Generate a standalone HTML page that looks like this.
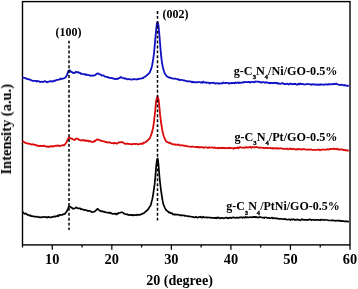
<!DOCTYPE html>
<html><head><meta charset="utf-8"><style>
html,body{margin:0;padding:0;background:#fff;}
svg{display:block;}
text{font-family:"Liberation Serif",serif;font-weight:bold;fill:#000;}
.tx{filter:grayscale(1);}
</style></head><body>
<svg width="358" height="289" viewBox="0 0 358 289">
<rect x="0" y="0" width="358" height="289" fill="#fff"/>
<rect x="22.5" y="1.6" width="327.5" height="243.3" fill="none" stroke="#000" stroke-width="1.4"/>
<g fill="none" stroke-linejoin="round">
<path d="M22.5 77.7 L23.3 77.7 L24.1 77.9 L24.9 77.8 L25.7 78.4 L26.5 78.7 L27.3 79.0 L28.1 79.1 L28.9 79.5 L29.7 79.6 L30.5 79.6 L31.3 80.4 L32.1 80.6 L32.9 81.0 L33.7 80.8 L34.5 80.8 L35.3 80.9 L36.1 80.8 L36.9 81.5 L37.7 81.1 L38.5 81.2 L39.3 81.5 L40.1 82.1 L40.9 81.9 L41.7 81.7 L42.5 81.8 L43.3 81.9 L44.1 81.4 L44.9 81.2 L45.7 81.5 L46.5 81.9 L47.3 82.3 L48.1 81.6 L48.9 81.7 L49.7 81.6 L50.5 81.1 L51.3 81.3 L52.1 81.2 L52.9 81.6 L53.7 81.1 L54.5 80.5 L55.3 80.8 L56.1 80.4 L56.9 79.8 L57.7 79.8 L58.5 79.6 L59.3 79.3 L60.1 79.3 L60.9 78.5 L61.7 78.8 L62.5 78.8 L63.3 78.5 L64.1 78.2 L64.9 77.8 L65.7 77.3 L66.5 75.7 L67.3 74.6 L68.1 71.6 L68.9 70.5 L69.7 70.2 L70.5 71.2 L71.3 72.0 L72.1 72.1 L72.9 73.0 L73.7 72.7 L74.5 73.0 L75.3 72.5 L76.1 71.7 L76.9 72.1 L77.7 72.6 L78.5 72.1 L79.3 72.9 L80.1 73.0 L80.9 73.8 L81.7 73.7 L82.5 74.0 L83.3 74.2 L84.1 74.3 L84.9 74.0 L85.7 74.9 L86.5 74.4 L87.3 75.0 L88.1 75.2 L88.9 75.0 L89.7 75.3 L90.5 75.8 L91.3 75.6 L92.1 75.6 L92.9 75.3 L93.7 75.7 L94.5 75.5 L95.3 75.0 L96.1 74.3 L96.9 73.8 L97.7 73.3 L98.5 73.6 L99.3 74.3 L100.1 74.3 L100.9 74.7 L101.7 75.6 L102.5 75.5 L103.3 75.3 L104.1 75.9 L104.9 76.4 L105.7 76.8 L106.5 76.9 L107.3 77.0 L108.1 77.2 L108.9 77.8 L109.7 77.9 L110.5 77.8 L111.3 78.0 L112.1 78.1 L112.9 78.5 L113.7 78.4 L114.5 78.9 L115.3 79.1 L116.1 79.0 L116.9 78.6 L117.7 79.0 L118.5 78.3 L119.3 78.2 L120.1 77.5 L120.9 77.0 L121.7 77.5 L122.5 77.9 L123.3 78.1 L124.1 78.5 L124.9 78.4 L125.7 78.5 L126.5 78.8 L127.3 79.4 L128.1 79.2 L128.9 79.0 L129.7 79.5 L130.5 79.3 L131.3 79.4 L132.1 79.7 L132.9 79.4 L133.7 79.0 L134.5 79.2 L135.3 79.4 L136.1 79.3 L136.9 79.5 L137.7 78.9 L138.5 79.1 L139.3 78.9 L140.1 78.6 L140.9 78.7 L141.7 78.5 L142.5 77.9 L143.3 78.0 L144.1 77.0 L144.9 76.8 L145.7 76.2 L146.5 75.7 L147.3 74.8 L148.1 74.3 L148.9 73.4 L149.7 72.5 L150.5 70.6 L151.3 68.6 L152.1 65.5 L152.9 60.8 L153.7 55.8 L154.5 48.1 L155.3 38.8 L156.1 30.7 L156.9 23.3 L157.7 22.1 L158.5 25.8 L159.3 34.2 L160.1 43.8 L160.9 53.7 L161.7 60.7 L162.5 65.5 L163.3 69.1 L164.1 71.6 L164.9 73.7 L165.7 74.8 L166.5 76.0 L167.3 76.6 L168.1 77.0 L168.9 77.5 L169.7 77.4 L170.5 77.9 L171.3 78.0 L172.1 78.5 L172.9 78.7 L173.7 78.6 L174.5 78.7 L175.3 78.6 L176.1 79.0 L176.9 79.2 L177.7 79.4 L178.5 79.2 L179.3 80.1 L180.1 80.0 L180.9 79.8 L181.7 79.9 L182.5 80.1 L183.3 80.3 L184.1 80.4 L184.9 80.7 L185.7 80.9 L186.5 81.2 L187.3 81.3 L188.1 81.1 L188.9 81.3 L189.7 81.3 L190.5 81.4 L191.3 82.1 L192.1 81.6 L192.9 82.4 L193.7 81.9 L194.5 82.1 L195.3 82.4 L196.1 82.2 L196.9 82.3 L197.7 82.2 L198.5 82.1 L199.3 82.2 L200.1 82.1 L200.9 82.7 L201.7 82.2 L202.5 82.7 L203.3 81.6 L204.1 82.3 L204.9 82.5 L205.7 82.4 L206.5 82.8 L207.3 82.7 L208.1 82.6 L208.9 82.8 L209.7 83.5 L210.5 82.9 L211.3 82.9 L212.1 82.8 L212.9 83.0 L213.7 82.7 L214.5 83.0 L215.3 83.6 L216.1 83.3 L216.9 83.2 L217.7 83.4 L218.5 83.6 L219.3 83.2 L220.1 83.6 L220.9 83.4 L221.7 83.1 L222.5 83.5 L223.3 82.5 L224.1 82.9 L224.9 83.2 L225.7 82.8 L226.5 83.0 L227.3 82.9 L228.1 82.9 L228.9 83.7 L229.7 83.2 L230.5 83.0 L231.3 83.3 L232.1 82.9 L232.9 83.1 L233.7 83.0 L234.5 83.3 L235.3 82.5 L236.1 83.0 L236.9 82.8 L237.7 82.4 L238.5 83.0 L239.3 82.4 L240.1 83.0 L240.9 82.7 L241.7 82.6 L242.5 82.4 L243.3 82.6 L244.1 81.8 L244.9 82.2 L245.7 82.0 L246.5 82.2 L247.3 82.1 L248.1 82.2 L248.9 81.8 L249.7 82.4 L250.5 82.5 L251.3 81.8 L252.1 81.8 L252.9 81.9 L253.7 82.1 L254.5 82.3 L255.3 81.5 L256.1 81.7 L256.9 81.6 L257.7 81.6 L258.5 81.6 L259.3 82.1 L260.1 81.8 L260.9 82.6 L261.7 82.5 L262.5 82.1 L263.3 82.1 L264.1 82.3 L264.9 82.9 L265.7 82.3 L266.5 82.2 L267.3 82.7 L268.1 82.8 L268.9 82.6 L269.7 83.3 L270.5 83.0 L271.3 83.1 L272.1 82.8 L272.9 83.1 L273.7 83.1 L274.5 82.6 L275.3 83.3 L276.1 82.8 L276.9 83.3 L277.7 83.0 L278.5 83.9 L279.3 83.5 L280.1 83.7 L280.9 83.8 L281.7 83.3 L282.5 83.1 L283.3 83.6 L284.1 84.0 L284.9 83.9 L285.7 84.1 L286.5 84.2 L287.3 83.6 L288.1 84.1 L288.9 84.6 L289.7 83.9 L290.5 83.6 L291.3 84.1 L292.1 84.0 L292.9 84.3 L293.7 83.9 L294.5 84.2 L295.3 83.6 L296.1 84.4 L296.9 84.6 L297.7 84.5 L298.5 83.8 L299.3 84.3 L300.1 83.4 L300.9 84.2 L301.7 84.2 L302.5 83.9 L303.3 84.3 L304.1 84.3 L304.9 84.5 L305.7 84.3 L306.5 84.3 L307.3 83.8 L308.1 84.0 L308.9 84.2 L309.7 84.4 L310.5 84.4 L311.3 84.8 L312.1 84.2 L312.9 84.4 L313.7 84.5 L314.5 84.4 L315.3 84.6 L316.1 84.4 L316.9 84.9 L317.7 84.4 L318.5 84.8 L319.3 84.5 L320.1 84.9 L320.9 84.2 L321.7 84.7 L322.5 84.5 L323.3 84.7 L324.1 84.9 L324.9 84.3 L325.7 84.3 L326.5 84.4 L327.3 84.7 L328.1 84.1 L328.9 84.6 L329.7 84.2 L330.5 84.2 L331.3 84.3 L332.1 84.4 L332.9 84.0 L333.7 84.0 L334.5 84.1 L335.3 84.0 L336.1 83.5 L336.9 84.1 L337.7 84.3 L338.5 84.7 L339.3 85.0 L340.1 84.8 L340.9 84.8 L341.7 84.6 L342.5 85.0 L343.3 85.2 L344.1 85.5 L344.9 85.0 L345.7 85.4 L346.5 85.6 L347.3 86.0 L348.1 85.7 L348.9 85.6" stroke="#1010c4" stroke-width="1.8"/>
<path d="M22.5 141.0 L23.3 141.6 L24.1 142.0 L24.9 142.7 L25.7 143.0 L26.5 143.2 L27.3 143.5 L28.1 143.4 L28.9 143.8 L29.7 143.8 L30.5 144.1 L31.3 144.6 L32.1 144.5 L32.9 144.2 L33.7 144.7 L34.5 144.8 L35.3 144.7 L36.1 145.0 L36.9 145.6 L37.7 146.0 L38.5 145.6 L39.3 146.1 L40.1 146.2 L40.9 145.7 L41.7 146.0 L42.5 146.0 L43.3 146.0 L44.1 145.6 L44.9 146.0 L45.7 146.4 L46.5 146.6 L47.3 146.8 L48.1 146.4 L48.9 147.0 L49.7 146.7 L50.5 146.1 L51.3 146.6 L52.1 146.2 L52.9 146.4 L53.7 146.1 L54.5 146.3 L55.3 145.9 L56.1 145.6 L56.9 145.8 L57.7 145.5 L58.5 145.5 L59.3 146.1 L60.1 145.8 L60.9 145.7 L61.7 145.6 L62.5 145.2 L63.3 145.1 L64.1 145.4 L64.9 144.2 L65.7 143.7 L66.5 142.2 L67.3 140.5 L68.1 138.8 L68.9 137.6 L69.7 137.7 L70.5 138.4 L71.3 138.5 L72.1 138.9 L72.9 139.3 L73.7 139.7 L74.5 140.0 L75.3 139.3 L76.1 138.7 L76.9 138.6 L77.7 138.7 L78.5 139.5 L79.3 139.6 L80.1 140.3 L80.9 140.5 L81.7 140.4 L82.5 140.1 L83.3 139.8 L84.1 140.6 L84.9 140.8 L85.7 140.2 L86.5 140.7 L87.3 141.1 L88.1 140.6 L88.9 141.5 L89.7 141.1 L90.5 141.1 L91.3 141.8 L92.1 141.8 L92.9 141.8 L93.7 141.9 L94.5 140.7 L95.3 141.1 L96.1 139.9 L96.9 139.7 L97.7 139.3 L98.5 139.6 L99.3 140.2 L100.1 140.1 L100.9 140.8 L101.7 140.9 L102.5 141.1 L103.3 141.4 L104.1 141.4 L104.9 141.6 L105.7 142.2 L106.5 142.0 L107.3 142.5 L108.1 142.5 L108.9 142.3 L109.7 142.2 L110.5 142.7 L111.3 143.1 L112.1 143.2 L112.9 143.0 L113.7 143.6 L114.5 142.9 L115.3 143.0 L116.1 143.3 L116.9 143.7 L117.7 143.1 L118.5 142.4 L119.3 142.5 L120.1 142.2 L120.9 142.3 L121.7 142.0 L122.5 142.2 L123.3 142.8 L124.1 143.2 L124.9 143.7 L125.7 144.0 L126.5 143.4 L127.3 143.6 L128.1 143.9 L128.9 143.9 L129.7 144.2 L130.5 144.2 L131.3 144.2 L132.1 144.5 L132.9 144.2 L133.7 143.9 L134.5 143.8 L135.3 144.0 L136.1 144.0 L136.9 143.8 L137.7 144.4 L138.5 144.3 L139.3 144.1 L140.1 144.0 L140.9 143.7 L141.7 143.7 L142.5 144.1 L143.3 142.7 L144.1 142.9 L144.9 142.6 L145.7 142.0 L146.5 141.3 L147.3 140.9 L148.1 139.8 L148.9 139.3 L149.7 138.4 L150.5 136.5 L151.3 134.4 L152.1 132.1 L152.9 128.8 L153.7 123.8 L154.5 117.1 L155.3 109.7 L156.1 101.4 L156.9 97.6 L157.7 96.7 L158.5 99.0 L159.3 106.2 L160.1 114.9 L160.9 121.5 L161.7 126.5 L162.5 131.4 L163.3 134.5 L164.1 137.1 L164.9 138.9 L165.7 140.6 L166.5 141.9 L167.3 141.8 L168.1 142.4 L168.9 142.9 L169.7 142.6 L170.5 143.5 L171.3 143.3 L172.1 144.2 L172.9 144.3 L173.7 144.3 L174.5 144.1 L175.3 144.8 L176.1 144.6 L176.9 144.7 L177.7 144.9 L178.5 144.5 L179.3 145.1 L180.1 145.4 L180.9 145.3 L181.7 145.4 L182.5 145.2 L183.3 145.7 L184.1 145.7 L184.9 145.8 L185.7 145.7 L186.5 146.2 L187.3 146.4 L188.1 146.3 L188.9 146.5 L189.7 146.7 L190.5 146.8 L191.3 146.6 L192.1 146.6 L192.9 146.6 L193.7 146.8 L194.5 147.0 L195.3 147.2 L196.1 146.9 L196.9 147.1 L197.7 146.8 L198.5 147.5 L199.3 147.1 L200.1 147.3 L200.9 147.1 L201.7 147.2 L202.5 147.2 L203.3 147.8 L204.1 147.5 L204.9 147.4 L205.7 147.3 L206.5 147.4 L207.3 147.7 L208.1 148.0 L208.9 147.3 L209.7 147.4 L210.5 147.6 L211.3 147.5 L212.1 147.3 L212.9 147.7 L213.7 147.9 L214.5 147.4 L215.3 147.8 L216.1 148.1 L216.9 148.1 L217.7 147.7 L218.5 148.4 L219.3 148.0 L220.1 147.7 L220.9 148.2 L221.7 147.6 L222.5 148.2 L223.3 147.7 L224.1 148.2 L224.9 147.9 L225.7 148.3 L226.5 148.2 L227.3 148.1 L228.1 148.0 L228.9 148.3 L229.7 147.6 L230.5 148.1 L231.3 148.1 L232.1 148.1 L232.9 148.1 L233.7 148.8 L234.5 147.9 L235.3 148.1 L236.1 147.9 L236.9 148.2 L237.7 147.3 L238.5 148.2 L239.3 147.6 L240.1 147.1 L240.9 147.4 L241.7 147.6 L242.5 147.7 L243.3 147.6 L244.1 147.8 L244.9 147.5 L245.7 147.5 L246.5 147.0 L247.3 147.6 L248.1 147.7 L248.9 147.3 L249.7 146.9 L250.5 147.0 L251.3 147.8 L252.1 147.2 L252.9 147.1 L253.7 147.1 L254.5 147.5 L255.3 147.2 L256.1 147.1 L256.9 147.0 L257.7 147.4 L258.5 147.7 L259.3 147.5 L260.1 147.8 L260.9 147.7 L261.7 147.7 L262.5 147.8 L263.3 147.8 L264.1 148.1 L264.9 148.0 L265.7 147.8 L266.5 148.0 L267.3 148.0 L268.1 148.1 L268.9 148.1 L269.7 148.2 L270.5 147.8 L271.3 148.3 L272.1 148.5 L272.9 147.9 L273.7 148.7 L274.5 148.4 L275.3 148.3 L276.1 148.0 L276.9 148.7 L277.7 148.2 L278.5 148.4 L279.3 148.7 L280.1 148.3 L280.9 148.4 L281.7 148.4 L282.5 148.7 L283.3 148.9 L284.1 148.9 L284.9 148.9 L285.7 148.8 L286.5 148.9 L287.3 148.7 L288.1 149.4 L288.9 149.0 L289.7 148.5 L290.5 148.7 L291.3 149.4 L292.1 148.7 L292.9 149.0 L293.7 149.2 L294.5 148.9 L295.3 149.4 L296.1 149.6 L296.9 149.0 L297.7 149.5 L298.5 149.0 L299.3 149.0 L300.1 149.4 L300.9 149.4 L301.7 149.2 L302.5 149.6 L303.3 149.0 L304.1 149.2 L304.9 149.2 L305.7 149.7 L306.5 149.7 L307.3 149.7 L308.1 149.3 L308.9 149.6 L309.7 149.8 L310.5 149.3 L311.3 149.5 L312.1 149.9 L312.9 149.9 L313.7 149.8 L314.5 149.9 L315.3 149.9 L316.1 149.8 L316.9 149.8 L317.7 149.6 L318.5 149.7 L319.3 149.7 L320.1 150.4 L320.9 149.8 L321.7 149.7 L322.5 149.6 L323.3 149.6 L324.1 149.6 L324.9 149.7 L325.7 149.5 L326.5 149.7 L327.3 149.2 L328.1 149.4 L328.9 149.5 L329.7 148.9 L330.5 149.1 L331.3 149.1 L332.1 148.9 L332.9 148.9 L333.7 148.6 L334.5 149.3 L335.3 148.8 L336.1 148.8 L336.9 149.4 L337.7 148.8 L338.5 149.6 L339.3 149.5 L340.1 149.6 L340.9 149.5 L341.7 149.4 L342.5 149.3 L343.3 150.2 L344.1 149.9 L344.9 150.0 L345.7 150.6 L346.5 150.2 L347.3 150.4 L348.1 150.6 L348.9 150.7" stroke="#dc0a0a" stroke-width="1.8"/>
<path d="M22.5 211.9 L23.3 212.5 L24.1 213.5 L24.9 213.9 L25.7 213.4 L26.5 213.9 L27.3 214.8 L28.1 214.9 L28.9 215.1 L29.7 215.7 L30.5 215.2 L31.3 216.1 L32.1 216.0 L32.9 216.3 L33.7 216.4 L34.5 216.7 L35.3 216.5 L36.1 216.6 L36.9 217.0 L37.7 217.0 L38.5 216.7 L39.3 217.4 L40.1 217.4 L40.9 217.5 L41.7 217.1 L42.5 217.2 L43.3 217.0 L44.1 216.9 L44.9 217.1 L45.7 217.2 L46.5 217.1 L47.3 217.7 L48.1 216.9 L48.9 217.1 L49.7 217.1 L50.5 217.6 L51.3 217.1 L52.1 217.1 L52.9 216.8 L53.7 216.7 L54.5 216.4 L55.3 216.7 L56.1 216.3 L56.9 216.2 L57.7 215.5 L58.5 216.1 L59.3 215.1 L60.1 214.7 L60.9 215.0 L61.7 214.9 L62.5 214.8 L63.3 214.0 L64.1 214.1 L64.9 213.9 L65.7 212.7 L66.5 211.8 L67.3 210.2 L68.1 208.6 L68.9 206.4 L69.7 206.6 L70.5 207.0 L71.3 207.6 L72.1 207.9 L72.9 208.8 L73.7 208.7 L74.5 208.5 L75.3 208.0 L76.1 207.3 L76.9 207.8 L77.7 208.4 L78.5 208.4 L79.3 208.3 L80.1 208.4 L80.9 209.3 L81.7 209.0 L82.5 209.5 L83.3 209.6 L84.1 209.8 L84.9 210.3 L85.7 210.0 L86.5 210.0 L87.3 210.9 L88.1 210.7 L88.9 210.9 L89.7 210.9 L90.5 211.3 L91.3 211.8 L92.1 212.2 L92.9 212.0 L93.7 211.8 L94.5 211.6 L95.3 210.9 L96.1 210.3 L96.9 209.4 L97.7 208.8 L98.5 209.7 L99.3 210.4 L100.1 210.8 L100.9 211.3 L101.7 211.3 L102.5 211.2 L103.3 211.7 L104.1 211.7 L104.9 212.2 L105.7 212.2 L106.5 212.5 L107.3 212.6 L108.1 212.8 L108.9 212.5 L109.7 213.1 L110.5 212.6 L111.3 213.4 L112.1 213.6 L112.9 214.0 L113.7 213.8 L114.5 213.7 L115.3 213.6 L116.1 214.5 L116.9 213.6 L117.7 214.0 L118.5 212.8 L119.3 213.0 L120.1 212.8 L120.9 212.4 L121.7 212.3 L122.5 212.4 L123.3 212.9 L124.1 213.8 L124.9 214.0 L125.7 214.1 L126.5 214.4 L127.3 214.3 L128.1 214.9 L128.9 215.1 L129.7 214.7 L130.5 214.9 L131.3 215.2 L132.1 214.8 L132.9 215.4 L133.7 215.3 L134.5 214.8 L135.3 215.1 L136.1 215.3 L136.9 214.6 L137.7 215.0 L138.5 214.8 L139.3 214.7 L140.1 214.9 L140.9 214.4 L141.7 214.0 L142.5 213.6 L143.3 213.5 L144.1 213.1 L144.9 212.2 L145.7 211.5 L146.5 210.8 L147.3 210.3 L148.1 209.3 L148.9 208.0 L149.7 206.8 L150.5 205.7 L151.3 202.9 L152.1 199.9 L152.9 196.1 L153.7 190.7 L154.5 185.3 L155.3 177.4 L156.1 166.9 L156.9 160.0 L157.7 158.5 L158.5 164.3 L159.3 174.9 L160.1 183.0 L160.9 189.6 L161.7 195.1 L162.5 200.2 L163.3 204.1 L164.1 206.0 L164.9 207.8 L165.7 209.2 L166.5 210.5 L167.3 210.9 L168.1 211.7 L168.9 212.6 L169.7 212.2 L170.5 213.1 L171.3 213.0 L172.1 213.3 L172.9 214.4 L173.7 214.2 L174.5 214.7 L175.3 214.4 L176.1 214.7 L176.9 214.5 L177.7 214.6 L178.5 214.8 L179.3 215.0 L180.1 215.4 L180.9 215.1 L181.7 215.4 L182.5 215.3 L183.3 215.5 L184.1 215.3 L184.9 216.0 L185.7 215.7 L186.5 216.0 L187.3 216.0 L188.1 216.4 L188.9 216.4 L189.7 216.4 L190.5 216.5 L191.3 216.7 L192.1 216.9 L192.9 216.9 L193.7 217.2 L194.5 217.4 L195.3 217.2 L196.1 216.7 L196.9 217.5 L197.7 217.7 L198.5 217.1 L199.3 217.1 L200.1 216.7 L200.9 217.4 L201.7 217.0 L202.5 217.7 L203.3 216.7 L204.1 217.3 L204.9 217.5 L205.7 217.3 L206.5 217.3 L207.3 217.6 L208.1 217.4 L208.9 217.5 L209.7 217.7 L210.5 217.6 L211.3 217.7 L212.1 218.0 L212.9 217.8 L213.7 217.9 L214.5 217.7 L215.3 218.2 L216.1 217.7 L216.9 218.3 L217.7 217.3 L218.5 217.9 L219.3 217.7 L220.1 218.4 L220.9 218.2 L221.7 217.8 L222.5 217.9 L223.3 218.4 L224.1 218.0 L224.9 218.1 L225.7 217.6 L226.5 217.5 L227.3 218.0 L228.1 218.4 L228.9 217.7 L229.7 218.0 L230.5 217.5 L231.3 218.1 L232.1 217.6 L232.9 217.6 L233.7 217.3 L234.5 217.6 L235.3 217.8 L236.1 218.0 L236.9 217.4 L237.7 217.9 L238.5 217.6 L239.3 217.6 L240.1 217.4 L240.9 217.2 L241.7 217.3 L242.5 217.9 L243.3 217.2 L244.1 217.4 L244.9 217.7 L245.7 216.9 L246.5 217.5 L247.3 217.2 L248.1 217.3 L248.9 217.5 L249.7 217.2 L250.5 217.1 L251.3 217.3 L252.1 217.3 L252.9 216.9 L253.7 217.1 L254.5 216.8 L255.3 217.4 L256.1 216.8 L256.9 217.2 L257.7 217.6 L258.5 217.4 L259.3 217.1 L260.1 217.1 L260.9 217.1 L261.7 217.6 L262.5 217.5 L263.3 217.5 L264.1 218.2 L264.9 217.4 L265.7 217.5 L266.5 217.6 L267.3 217.8 L268.1 217.9 L268.9 217.8 L269.7 218.2 L270.5 218.2 L271.3 218.0 L272.1 217.6 L272.9 218.5 L273.7 218.1 L274.5 218.2 L275.3 218.4 L276.1 218.2 L276.9 218.4 L277.7 218.7 L278.5 218.7 L279.3 218.9 L280.1 218.7 L280.9 218.9 L281.7 218.7 L282.5 219.0 L283.3 219.2 L284.1 219.2 L284.9 218.9 L285.7 219.3 L286.5 219.4 L287.3 219.7 L288.1 219.5 L288.9 219.4 L289.7 219.3 L290.5 220.1 L291.3 219.4 L292.1 219.4 L292.9 219.6 L293.7 219.2 L294.5 219.9 L295.3 219.7 L296.1 219.8 L296.9 219.4 L297.7 219.6 L298.5 219.9 L299.3 219.9 L300.1 220.4 L300.9 220.0 L301.7 219.2 L302.5 219.7 L303.3 219.6 L304.1 220.0 L304.9 219.7 L305.7 219.9 L306.5 219.7 L307.3 219.9 L308.1 220.1 L308.9 219.6 L309.7 219.3 L310.5 219.5 L311.3 220.2 L312.1 219.9 L312.9 219.8 L313.7 219.6 L314.5 220.1 L315.3 219.9 L316.1 219.9 L316.9 219.8 L317.7 219.9 L318.5 219.8 L319.3 220.1 L320.1 220.3 L320.9 219.5 L321.7 219.6 L322.5 220.0 L323.3 220.0 L324.1 219.7 L324.9 219.9 L325.7 220.0 L326.5 220.0 L327.3 220.0 L328.1 220.2 L328.9 220.5 L329.7 220.5 L330.5 220.5 L331.3 220.4 L332.1 220.2 L332.9 220.3 L333.7 220.7 L334.5 220.6 L335.3 220.8 L336.1 220.7 L336.9 220.7 L337.7 220.8 L338.5 220.4 L339.3 220.8 L340.1 220.7 L340.9 221.2 L341.7 220.8 L342.5 221.1 L343.3 221.0 L344.1 221.3 L344.9 221.4 L345.7 221.2 L346.5 221.3 L347.3 221.4 L348.1 221.6 L348.9 221.4" stroke="#000" stroke-width="1.7"/>
</g>
<g stroke="#000" stroke-width="1.5" stroke-dasharray="2.9 2.02">
<line x1="69" y1="40.65" x2="69" y2="230"/>
<line x1="157.5" y1="11.05" x2="157.5" y2="221"/>
</g>
<g stroke="#000" stroke-width="1.25">
<line x1="22.50" y1="244.9" x2="22.50" y2="247.5"/>
<line x1="52.27" y1="244.9" x2="52.27" y2="249.8"/>
<line x1="82.05" y1="244.9" x2="82.05" y2="247.5"/>
<line x1="111.82" y1="244.9" x2="111.82" y2="249.8"/>
<line x1="141.59" y1="244.9" x2="141.59" y2="247.5"/>
<line x1="171.36" y1="244.9" x2="171.36" y2="249.8"/>
<line x1="201.14" y1="244.9" x2="201.14" y2="247.5"/>
<line x1="230.91" y1="244.9" x2="230.91" y2="249.8"/>
<line x1="260.68" y1="244.9" x2="260.68" y2="247.5"/>
<line x1="290.45" y1="244.9" x2="290.45" y2="249.8"/>
<line x1="320.23" y1="244.9" x2="320.23" y2="247.5"/>
<line x1="350.00" y1="244.9" x2="350.00" y2="249.8"/>
</g>
<g class="tx">
<g font-size="14.4" text-anchor="middle">
<text x="52.27" y="263.5">10</text>
<text x="111.82" y="263.5">20</text>
<text x="171.36" y="263.5">30</text>
<text x="230.91" y="263.5">40</text>
<text x="290.45" y="263.5">50</text>
<text x="350.00" y="263.5">60</text>
</g>
<text x="179.5" y="285.0" font-size="14.1" text-anchor="middle">20 (degree)</text>
<text transform="translate(11 129.3) rotate(-90)" font-size="14.5" text-anchor="middle">Intensity (a.u.)</text>
<text x="68.6" y="35.9" font-size="12" text-anchor="middle">(100)</text>
<text x="175.6" y="17.6" font-size="12" text-anchor="middle">(002)</text>
<g font-size="12.2">
<text x="233.7" y="74.8">g-C<tspan font-size="6.6" dy="4.6" stroke="#000" stroke-width="0.3">3</tspan><tspan dy="-4.6">N</tspan><tspan font-size="6.6" dy="4.6" stroke="#000" stroke-width="0.3">4</tspan><tspan dy="-4.6">/Ni/GO-0.5%</tspan></text>
<text x="234.4" y="140.6">g-C<tspan font-size="6.6" dy="4.6" stroke="#000" stroke-width="0.3">3</tspan><tspan dy="-4.6">N</tspan><tspan font-size="6.6" dy="4.6" stroke="#000" stroke-width="0.3">4</tspan><tspan dy="-4.6">/Pt/GO-0.5%</tspan></text>
<text x="226.2" y="210.3" font-size="12">g-C<tspan font-size="6.6" dy="4.6" stroke="#000" stroke-width="0.3">3</tspan><tspan dy="-4.6">N</tspan><tspan font-size="6.6" dy="4.6" stroke="#000" stroke-width="0.3">4</tspan><tspan dy="-4.6">/PtNi/GO-0.5%</tspan></text>
</g>
</g>
</svg>
</body></html>
